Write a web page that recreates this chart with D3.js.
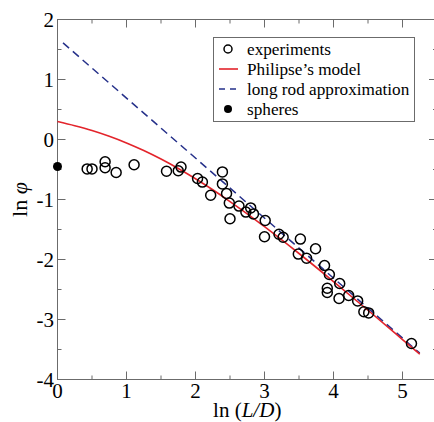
<!DOCTYPE html>
<html>
<head>
<meta charset="utf-8">
<script src="https://cdn.jsdelivr.net/npm/d3@7"></script>
<style>
  body { margin: 0; background: #fff; }
  svg { display: block; }
  svg text { font-family: "Liberation Serif", "Times New Roman", serif; }
</style>
</head>
<body>
<svg id="chart"></svg>
<script>
// experiments: ln(L/D), ln(phi)
const expX = [0.43, 0.50, 0.69, 0.69, 0.85, 1.11, 1.58, 1.75, 1.79, 2.03, 2.10, 2.22,
  2.39, 2.39, 2.45, 2.49, 2.50, 2.63, 2.73, 2.80, 2.84, 3.01, 3.00, 3.21, 3.27,
  3.52, 3.49, 3.61, 3.74, 3.87, 3.94, 3.91, 3.91, 4.09, 4.08, 4.22, 4.35, 4.44,
  4.51, 5.13];
const expY = [-0.49, -0.49, -0.37, -0.47, -0.55, -0.42, -0.53, -0.52, -0.46, -0.65, -0.71, -0.93,
  -0.54, -0.74, -0.90, -1.06, -1.32, -1.11, -1.21, -1.14, -1.24, -1.35, -1.62, -1.58, -1.63,
  -1.66, -1.91, -1.98, -1.82, -2.10, -2.25, -2.48, -2.55, -2.40, -2.65, -2.60, -2.69, -2.87,
  -2.89, -3.40];

// Philipse's model curve
const modelX = [0, 0.25, 0.5, 0.75, 1.0, 1.25, 1.5, 1.75, 2.0, 2.25, 2.5, 2.75, 3.0, 3.5, 4.0, 4.5, 5.0, 5.25];
const modelY = [0.30, 0.23, 0.15, 0.054, -0.057, -0.184, -0.326, -0.483, -0.654, -0.838, -1.034, -1.239,
  -1.453, -1.90, -2.367, -2.846, -3.334, -3.579];

// long rod approximation (straight line)
const rodX = [0.08, 5.25];
const rodY = [1.61, -3.56];

// spheres
const sphereX = [0];
const sphereY = [-0.45];

const xTicks = [0, 1, 2, 3, 4, 5];
const yTicks = [2, 1, 0, -1, -2, -3, -4];

const legendItems = ["experiments", "Philipse\u2019s model", "long rod approximation", "spheres"];

const W = 434, H = 422;
const red = "#e3242b";
const blue = "#25308a";
const axisGray = "#6b6b6b";

const svg = d3.select("#chart").attr("width", W).attr("height", H);

// scales
const x = d3.scaleLinear().domain([0, 5.5]).range([57.5, 437]);
const y = d3.scaleLinear().domain([-4, 2]).range([379.5, 19.5]);

const g = svg.append("g");

// frame
g.append("rect")
  .attr("x", x(0)).attr("y", y(2))
  .attr("width", x(5.5) - x(0)).attr("height", y(-4) - y(2))
  .attr("fill", "none").attr("stroke", axisGray).attr("stroke-width", 1);

// ticks on all four sides, pointing inward
const major = d3.range(0, 6, 1);
const minorX = d3.range(0.5, 5.5, 1);
const majorY = d3.range(-3, 2, 1);
const minorY = d3.range(-3.5, 2, 1);

function tickX(vals, len) {
  vals.forEach((v) => {
    g.append("line").attr("x1", x(v)).attr("x2", x(v)).attr("y1", y(-4)).attr("y2", y(-4) - len)
      .attr("stroke", axisGray);
    g.append("line").attr("x1", x(v)).attr("x2", x(v)).attr("y1", y(2)).attr("y2", y(2) + len)
      .attr("stroke", axisGray);
  });
}
function tickY(vals, len) {
  vals.forEach((v) => {
    g.append("line").attr("x1", x(0)).attr("x2", x(0) + len).attr("y1", y(v)).attr("y2", y(v))
      .attr("stroke", axisGray);
    g.append("line").attr("x1", x(5.5)).attr("x2", x(5.5) - len).attr("y1", y(v)).attr("y2", y(v))
      .attr("stroke", axisGray);
  });
}
tickX(major.slice(1), 8);
tickX(minorX, 4);
tickY(majorY, 8);
tickY(minorY, 4);

// tick labels
g.selectAll(".xl").data(xTicks).join("text")
  .attr("x", (d) => x(d)).attr("y", 398)
  .attr("text-anchor", "middle").attr("font-size", 21)
  .text((d) => d);

g.selectAll(".yl").data(yTicks).join("text")
  .attr("x", 54).attr("y", (d) => y(d) + 7.5)
  .attr("text-anchor", "end").attr("font-size", 21)
  .text((d) => d);

// axis titles
const xt = svg.append("text").attr("x", x(2.75)).attr("y", 417)
  .attr("text-anchor", "middle").attr("font-size", 21);
xt.append("tspan").text("ln (");
xt.append("tspan").attr("font-style", "italic").text("L/D");
xt.append("tspan").text(")");

const yt = svg.append("text").attr("transform", `translate(27,${y(-1)}) rotate(-90)`)
  .attr("text-anchor", "middle").attr("font-size", 22);
yt.append("tspan").text("ln  ");
yt.append("tspan").attr("font-style", "italic").text("\u03c6");

// lines
const line = d3.line().x((d) => x(d[0])).y((d) => y(d[1]));

g.append("path")
  .datum(rodX.map((v, i) => [v, rodY[i]]))
  .attr("d", line)
  .attr("fill", "none").attr("stroke", blue).attr("stroke-width", 1.5)
  .attr("stroke-dasharray", "8,5");

g.append("path")
  .datum(modelX.map((v, i) => [v, modelY[i]]))
  .attr("d", line.curve(d3.curveMonotoneX))
  .attr("fill", "none").attr("stroke", red).attr("stroke-width", 1.6);

// experiment points
g.selectAll(".exp").data(expX.map((v, i) => [v, expY[i]])).join("circle")
  .attr("cx", (d) => x(d[0])).attr("cy", (d) => y(d[1])).attr("r", 5)
  .attr("fill", "none").attr("stroke", "#000").attr("stroke-width", 1.5);

// spheres
g.selectAll(".sph").data(sphereX.map((v, i) => [v, sphereY[i]])).join("circle")
  .attr("cx", (d) => x(d[0])).attr("cy", (d) => y(d[1])).attr("r", 4.5)
  .attr("fill", "#000");

// legend
const lg = svg.append("g");
lg.append("rect").attr("x", 213.5).attr("y", 37.5).attr("width", 201).attr("height", 84)
  .attr("fill", "#fff").attr("stroke", axisGray);

const rowY = (i) => 49 + i * 20;
lg.selectAll("text").data(legendItems).join("text")
  .attr("x", 247).attr("y", (d, i) => rowY(i) + 6)
  .attr("font-size", 17.2)
  .text((d) => d);

lg.append("circle").attr("cx", 228).attr("cy", rowY(0)).attr("r", 4)
  .attr("fill", "none").attr("stroke", "#000").attr("stroke-width", 1.5);
lg.append("line").attr("x1", 219).attr("x2", 238).attr("y1", rowY(1)).attr("y2", rowY(1))
  .attr("stroke", red).attr("stroke-width", 1.6);
lg.append("line").attr("x1", 219).attr("x2", 238).attr("y1", rowY(2)).attr("y2", rowY(2))
  .attr("stroke", blue).attr("stroke-width", 1.5).attr("stroke-dasharray", "6,5");
lg.append("circle").attr("cx", 228).attr("cy", rowY(3)).attr("r", 4).attr("fill", "#000");
</script>
</body>
</html>
